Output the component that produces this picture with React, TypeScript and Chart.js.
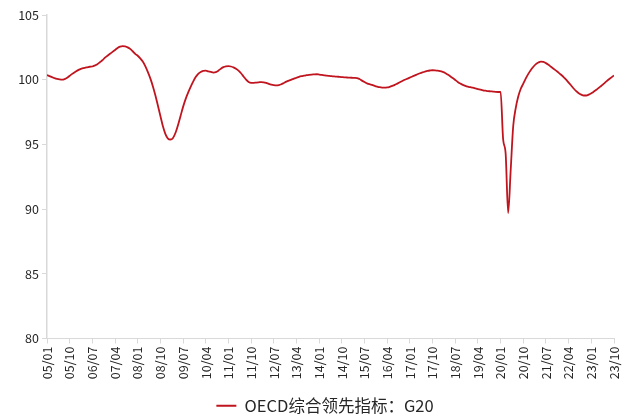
import React, { useEffect, useRef } from "react";
import { Chart, registerables } from "chart.js";

Chart.register(...registerables);

const seriesName = "OECD综合领先指标：G20";

const tickLabels = [
  "05/01", "05/10", "06/07", "07/04", "08/01", "08/10", "09/07", "10/04", "11/01",
  "11/10", "12/07", "13/04", "14/01", "14/10", "15/07", "16/04", "17/01", "17/10",
  "18/07", "19/04", "20/01", "20/10", "21/07", "22/04", "23/01", "23/10",
];

// Monthly values, 2005/01 .. 2023/10
const v2005 = [100.36, 100.28, 100.2, 100.12, 100.06, 100.02, 100.0, 100.05, 100.15, 100.3, 100.45, 100.58];
const v2006 = [100.7, 100.8, 100.87, 100.92, 100.96, 101.0, 101.02, 101.1, 101.2, 101.35, 101.5, 101.7];
const v2007 = [101.85, 102.0, 102.15, 102.3, 102.45, 102.55, 102.6, 102.58, 102.5, 102.38, 102.2, 102.0];
const v2008 = [101.85, 101.65, 101.4, 101.05, 100.6, 100.1, 99.5, 98.8, 98.0, 97.2, 96.4, 95.8];
const v2009 = [95.45, 95.38, 95.5, 95.9, 96.5, 97.2, 97.9, 98.5, 99.0, 99.45, 99.85, 100.2];
const v2010 = [100.45, 100.6, 100.68, 100.7, 100.65, 100.6, 100.55, 100.58, 100.7, 100.85, 100.97, 101.03];
const v2011 = [101.05, 101.02, 100.95, 100.85, 100.7, 100.5, 100.25, 100.0, 99.82, 99.75, 99.76, 99.78];
const v2012 = [99.8, 99.82, 99.8, 99.75, 99.68, 99.62, 99.58, 99.56, 99.58, 99.65, 99.75, 99.85];
const v2013 = [99.93, 100.0, 100.08, 100.15, 100.22, 100.27, 100.31, 100.35, 100.38, 100.4, 100.41, 100.42];
const v2014 = [100.4, 100.37, 100.34, 100.31, 100.29, 100.27, 100.25, 100.24, 100.22, 100.2, 100.18, 100.17];
const v2015 = [100.16, 100.15, 100.14, 100.13, 100.05, 99.93, 99.82, 99.72, 99.65, 99.6, 99.53, 99.47];
const v2016 = [99.42, 99.39, 99.38, 99.4, 99.45, 99.52, 99.6, 99.7, 99.8, 99.9, 100.0, 100.08];
const v2017 = [100.16, 100.25, 100.33, 100.42, 100.5, 100.57, 100.63, 100.68, 100.71, 100.73, 100.72, 100.7];
const v2018 = [100.66, 100.6, 100.52, 100.4, 100.27, 100.13, 99.98, 99.83, 99.7, 99.6, 99.52, 99.46];
const v2019 = [99.42, 99.38, 99.33, 99.28, 99.23, 99.18, 99.15, 99.12, 99.1, 99.08, 99.06, 99.05];
const v2020 = [99.05, 95.4, 94.3, 89.7, 93.0, 96.4, 97.8, 98.7, 99.3, 99.7, 100.1, 100.45];
const v2021 = [100.75, 101.0, 101.2, 101.33, 101.4, 101.38, 101.28, 101.15, 101.0, 100.85, 100.7, 100.55];
const v2022 = [100.38, 100.2, 100.0, 99.78, 99.55, 99.32, 99.12, 98.96, 98.85, 98.78, 98.78, 98.85];
const v2023 = [98.95, 99.08, 99.22, 99.38, 99.53, 99.7, 99.87, 100.03, 100.18, 100.33];

const values = [
  ...v2005, ...v2006, ...v2007, ...v2008, ...v2009, ...v2010, ...v2011, ...v2012, ...v2013,
  ...v2014, ...v2015, ...v2016, ...v2017, ...v2018, ...v2019, ...v2020, ...v2021, ...v2022, ...v2023,
];

const FONT = "'Noto Sans CJK SC', 'Noto Sans', sans-serif";
const AXIS = "#d9d9d9";
const TEXT = "#262626";

const legendShift = {
  id: "legendShift",
  afterUpdate(chart: any) {
    const lg = chart.legend;
    if (lg) {
      lg.left += 18;
      lg.right += 18;
      lg.top += 7;
      lg.bottom += 7;
    }
  },
};

export default function App() {
  const ref = useRef<HTMLCanvasElement | null>(null);

  useEffect(() => {
    document.body.style.margin = "0";
    const ctx = ref.current!;
    const chart = new Chart(ctx, {
      type: "line",
      data: {
        datasets: [
          {
            label: seriesName,
            data: values.map((v, i) => ({ x: i, y: v })),
            borderColor: "#C0141E",
            backgroundColor: "#C0141E",
            borderWidth: 1.8,
            pointRadius: 0,
            cubicInterpolationMode: "monotone",
          },
        ],
      },
      plugins: [legendShift],
      options: {
        responsive: false,
        animation: false,
        layout: { padding: { top: 15, right: 16, left: 0, bottom: 0 } },
        plugins: {
          tooltip: { enabled: false },
          legend: {
            position: "bottom",
            labels: {
              usePointStyle: true,
              pointStyle: "line",
              pointStyleWidth: 20,
              color: TEXT,
              font: { family: FONT, size: 16.5 },
              padding: 3,
            },
          },
        },
        scales: {
          x: {
            type: "linear",
            min: 0,
            max: values.length - 1,
            afterBuildTicks: (s: any) => {
              s.ticks = tickLabels.map((_, i) => ({ value: i * 9 }));
            },
            afterFit: (s: any) => {
              s.height = 49;
              s.paddingLeft = 0;
              s.paddingRight = 0;
            },
            ticks: {
              autoSkip: false,
              maxRotation: 90,
              minRotation: 90,
              padding: 3,
              color: TEXT,
              font: { family: FONT, size: 12.5 },
              callback: (v: any) => tickLabels[Math.round(Number(v) / 9)] ?? "",
            },
            grid: { drawOnChartArea: false, drawTicks: true, tickLength: 5, color: AXIS },
            border: { display: true, color: AXIS, width: 1 },
          },
          y: {
            min: 80,
            max: 105,
            afterFit: (s: any) => {
              s.width = 47;
            },
            ticks: {
              stepSize: 5,
              padding: 3,
              color: TEXT,
              font: { family: FONT, size: 12.5 },
            },
            grid: { drawOnChartArea: false, drawTicks: true, tickLength: 5, color: AXIS },
            border: { display: true, color: AXIS, width: 1.5 },
          },
        },
      },
    });
    return () => chart.destroy();
  }, []);

  return (
    <div style={{ width: 630, height: 417 }}>
      <canvas ref={ref} width={630} height={417} style={{ display: "block" }} />
    </div>
  );
}
